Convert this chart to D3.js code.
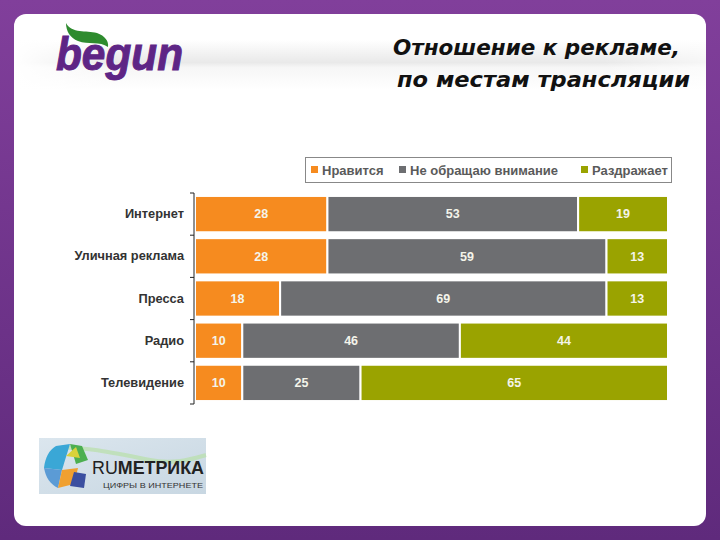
<!DOCTYPE html>
<html>
<head>
<meta charset="utf-8">
<script src="https://cdn.jsdelivr.net/npm/d3@7"></script>
<style>
  html, body { margin: 0; padding: 0; background: #fff; }
  svg { display: block; }
</style>
</head>
<body>
<div id="chart"></div>
<script>
// data
const categories = ["Интернет", "Уличная реклама", "Пресса", "Радио", "Телевидение"];
const seriesNames = ["Нравится", "Не обращаю внимание", "Раздражает"];
const likes = [28, 28, 18, 10, 10];
const ignores = [53, 59, 69, 46, 25];
const annoys = [19, 13, 13, 44, 65];
const titleLines = ["Отношение к рекламе,", "по местам трансляции"];

const colors = ["#F68B1F", "#6D6E71", "#9AA300"];

const width = 720, height = 540;
const svg = d3.select("#chart").append("svg").attr("width", width).attr("height", height);
const defs = svg.append("defs");

// frame
const fg = defs.append("linearGradient").attr("id", "frame").attr("x1", 0).attr("y1", 0).attr("x2", 0).attr("y2", 1);
fg.append("stop").attr("offset", "0%").attr("stop-color", "#813F9B");
fg.append("stop").attr("offset", "100%").attr("stop-color", "#5F2A7C");
svg.append("rect").attr("width", width).attr("height", height).attr("fill", "url(#frame)");
svg.append("rect").attr("x", 14).attr("y", 14).attr("width", 692).attr("height", 512)
  .attr("rx", 12).attr("fill", "#fff");

// gray band behind header
const bg = defs.append("linearGradient").attr("id", "band").attr("x1", 0).attr("y1", 0).attr("x2", 0).attr("y2", 1);
bg.append("stop").attr("offset", "0%").attr("stop-color", "#fff");
bg.append("stop").attr("offset", "45%").attr("stop-color", "#e9e9e9");
bg.append("stop").attr("offset", "55%").attr("stop-color", "#f6f6f6");
bg.append("stop").attr("offset", "100%").attr("stop-color", "#fff");
const bh = defs.append("linearGradient").attr("id", "bandMask").attr("x1", 0).attr("y1", 0).attr("x2", 1).attr("y2", 0);
bh.append("stop").attr("offset", "0%").attr("stop-color", "#fff").attr("stop-opacity", 1);
bh.append("stop").attr("offset", "15%").attr("stop-color", "#fff").attr("stop-opacity", 0);
bh.append("stop").attr("offset", "85%").attr("stop-color", "#fff").attr("stop-opacity", 0);
bh.append("stop").attr("offset", "100%").attr("stop-color", "#fff").attr("stop-opacity", 0.6);
svg.append("rect").attr("x", 14).attr("y", 40).attr("width", 692).attr("height", 50).attr("fill", "url(#band)");
svg.append("rect").attr("x", 14).attr("y", 40).attr("width", 692).attr("height", 50).attr("fill", "url(#bandMask)");

// begun logo
svg.append("path")
  .attr("d", "M66,23 C72,34 86,30 97,33 C105,36 109,41 108,47 C100,41 88,45 78,41 C70,38 66,31 66,23 Z")
  .attr("fill", "#2E8B2E");
svg.append("text")
  .attr("x", 56).attr("y", 70)
  .attr("font-family", "'Liberation Sans', Arial, sans-serif")
  .attr("font-weight", "bold").attr("font-style", "italic")
  .attr("font-size", 46).attr("fill", "#5E2585")
  .attr("stroke", "#5E2585").attr("stroke-width", 1)
  .attr("textLength", 127).attr("lengthAdjust", "spacingAndGlyphs")
  .text("begun");

// title
svg.selectAll(".title")
  .data(titleLines)
  .join("text")
  .attr("class", "title")
  .attr("x", (d, i) => i === 0 ? 393 : 397)
  .attr("y", (d, i) => i === 0 ? 55 : 87)
  .attr("font-family", "'DejaVu Sans', Verdana, sans-serif")
  .attr("font-weight", "bold").attr("font-style", "italic")
  .attr("font-size", 21).attr("fill", "#111")
  .attr("textLength", (d, i) => i === 0 ? 287 : 293)
  .attr("lengthAdjust", "spacingAndGlyphs")
  .text(d => d);

// scales
const x = d3.scaleLinear().domain([0, 100]).range([195, 668]);
const y = d3.scaleBand().domain(categories).range([193, 404]).paddingInner(0.14).paddingOuter(0.07);

const rows = categories.map((c, i) => ({ cat: c, values: [likes[i], ignores[i], annoys[i]] }));
const stack = d3.stack().keys([0, 1, 2]).value((d, k) => d.values[k]);
const layers = stack(rows);

const chart = svg.append("g");
const layer = chart.selectAll(".layer")
  .data(layers)
  .join("g")
  .attr("class", "layer")
  .attr("fill", (d, i) => colors[i]);

layer.selectAll("rect")
  .data(d => d)
  .join("rect")
  .attr("x", d => x(d[0]))
  .attr("y", d => y(d.data.cat))
  .attr("width", d => x(d[1]) - x(d[0]))
  .attr("height", y.bandwidth())
  .attr("stroke", "#fff")
  .attr("stroke-width", 2);

layer.selectAll("text")
  .data(d => d.map(s => ({ s, v: s[1] - s[0] })))
  .join("text")
  .attr("x", d => (x(d.s[0]) + x(d.s[1])) / 2)
  .attr("y", d => y(d.s.data.cat) + y.bandwidth() / 2)
  .attr("dy", "0.35em")
  .attr("text-anchor", "middle")
  .attr("font-family", "'Liberation Sans', Arial, sans-serif")
  .attr("font-weight", "bold").attr("font-size", 12.5)
  .attr("fill", "#f4f4ea")
  .text(d => d.v);

// axis
const yAxis = d3.axisLeft(y).tickSize(0).tickPadding(10);
const ax = chart.append("g")
  .attr("transform", `translate(${x(0) - 1},0)`)
  .call(yAxis);
ax.select(".domain").attr("stroke", "#222").attr("d", `M0,193V404`);
ax.selectAll(".tick text")
  .attr("font-family", "'Liberation Sans', Arial, sans-serif")
  .attr("font-weight", "bold").attr("font-size", 12.8)
  .attr("fill", "#333");
const bounds = categories.map(c => y(c) - y.step() * y.paddingInner() / 2).concat([404]);
bounds[0] = 193;
ax.selectAll(".bound")
  .data(bounds)
  .join("line")
  .attr("class", "bound")
  .attr("x1", -4).attr("x2", 0)
  .attr("y1", d => d).attr("y2", d => d)
  .attr("stroke", "#222");

// legend
const legend = svg.append("g");
legend.append("rect")
  .attr("x", 305.5).attr("y", 157.5).attr("width", 366).attr("height", 25)
  .attr("fill", "#fff").attr("stroke", "#888");
const legendX = [311, 399, 581];
const li = legend.selectAll(".item")
  .data(seriesNames)
  .join("g")
  .attr("class", "item")
  .attr("transform", (d, i) => `translate(${legendX[i]},170)`);
li.append("rect")
  .attr("x", 0).attr("y", -4).attr("width", 7).attr("height", 7)
  .attr("fill", (d, i) => colors[i]);
li.append("text")
  .attr("x", 11).attr("dy", "0.35em")
  .attr("font-family", "'Liberation Sans', Arial, sans-serif")
  .attr("font-weight", "bold").attr("font-size", 13)
  .attr("fill", "#5a5a5a")
  .text(d => d);

// RUМЕТРИКА logo
const rg = defs.append("linearGradient").attr("id", "ru").attr("x1", 0).attr("y1", 0).attr("x2", 1).attr("y2", 1);
rg.append("stop").attr("offset", "0%").attr("stop-color", "#dbe6ee");
rg.append("stop").attr("offset", "100%").attr("stop-color", "#c8d7e2");
const logo = svg.append("g");
logo.append("rect").attr("x", 39).attr("y", 438).attr("width", 167).attr("height", 56).attr("fill", "url(#ru)");
logo.append("path").attr("d", "M60,448 C80,446 110,452 150,460 C175,465 195,458 206,455")
  .attr("fill", "none").attr("stroke", "#b8e0a8").attr("stroke-width", 4).attr("opacity", 0.7);
logo.append("path").attr("d", "M56,446 L70,444 L62,470 L44,468 C45,458 49,450 56,446 Z").attr("fill", "#3aa7d6");
logo.append("path").attr("d", "M70,444 L82,446 L88,460 L76,464 Z").attr("fill", "#4caf50");
logo.append("path").attr("d", "M66,456 L76,447 L80,458 Z").attr("fill", "#d9d23a");
logo.append("path").attr("d", "M44,468 L62,470 L58,488 C50,484 46,478 44,468 Z").attr("fill", "#5b9bd5");
logo.append("path").attr("d", "M62,470 L78,468 L74,484 L58,488 Z").attr("fill", "#f0a030");
logo.append("path").attr("d", "M74,472 L86,474 L84,488 L70,486 Z").attr("fill", "#3b4fa0");
logo.append("text")
  .attr("x", 92).attr("y", 474)
  .attr("font-family", "'Liberation Sans', Arial, sans-serif")
  .attr("font-size", 19).attr("fill", "#222")
  .attr("textLength", 112).attr("lengthAdjust", "spacingAndGlyphs")
  .html('RU<tspan font-weight="bold">МЕТРИКА</tspan>');
logo.append("text")
  .attr("x", 103).attr("y", 488)
  .attr("font-family", "'Liberation Sans', Arial, sans-serif")
  .attr("font-size", 7).attr("fill", "#333")
  .attr("textLength", 100).attr("lengthAdjust", "spacingAndGlyphs")
  .text("ЦИФРЫ В ИНТЕРНЕТЕ");
</script>
</body>
</html>
